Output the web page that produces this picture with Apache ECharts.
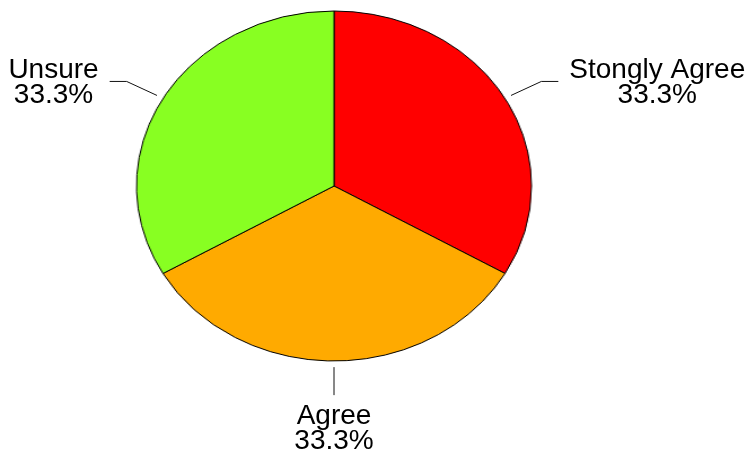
<!DOCTYPE html>
<html>
<head>
<meta charset="utf-8">
<script src="https://cdn.jsdelivr.net/npm/echarts@6/dist/echarts.min.js"></script>
<style>
  html, body { margin: 0; padding: 0; background: #ffffff; }
  #wrap { position: relative; width: 751px; height: 454px; overflow: hidden; }
  .layer { position: absolute; left: 0; top: 0; width: 751px; height: 454px; }
</style>
</head>
<body>
<div id="wrap">
  <div id="pie" class="layer"></div>
  <div id="labels" class="layer"></div>
</div>
<script>
// ---- data ----
const categories = ['Stongly Agree', 'Agree', 'Unsure'];
const values = [1, 1, 1];
const colors = ['#FF0000', '#FFAA00', '#88FF22'];

// ---- layout ----
const CX = 334, CY = 186;      // ellipse centre
const RX = 197.5, RY = 175;    // ellipse radii
const K = RX / RY;

const total = values.reduce((a, b) => a + b, 0);

const pieEl = document.getElementById('pie');
pieEl.style.transformOrigin = CX + 'px ' + CY + 'px';
pieEl.style.transform = 'scaleX(' + K + ')';

const data = categories.map((c, i) => ({ name: c, value: values[i] }));

const pieChart = echarts.init(pieEl, null, { renderer: 'canvas' });
pieChart.setOption({
  animation: false,
  color: colors,
  series: [{
    type: 'pie',
    silent: true,
    center: [CX, CY],
    radius: RY,
    startAngle: 90,
    clockwise: true,
    label: { show: false },
    labelLine: { show: false },
    itemStyle: { borderColor: '#000000', borderWidth: 1 },
    data: data
  }]
});

const labelChart = echarts.init(document.getElementById('labels'), null, { renderer: 'canvas' });
labelChart.setOption({
  animation: false,
  series: [{
    type: 'pie',
    silent: true,
    center: [CX, CY],
    radius: RY,
    startAngle: 90,
    clockwise: true,
    itemStyle: { color: 'transparent', borderWidth: 0 },
    label: {
      show: true,
      position: 'outside',
      formatter: function (p) {
        return p.name + '\n' + (p.value / total * 100).toFixed(1) + '%';
      },
      fontFamily: '"Liberation Sans", Arial, sans-serif',
      fontSize: 28,
      lineHeight: 25,
      color: '#000000'
    },
    labelLine: { show: true, length: 20, length2: 15, lineStyle: { color: '#111111', width: 1 } },
    labelLayout: function (params) {
      const pts = params.labelLinePoints;
      if (!pts) return {};
      let ux = pts[0][0] - CX, uy = pts[0][1] - CY;
      const n = Math.sqrt(ux * ux + uy * uy) || 1;
      ux /= n; uy /= n;
      const p0 = [CX + RX * ux * 1.035, CY + RY * uy * 1.035];
      const p1 = [p0[0] + ux * 35, p0[1] + uy * 28];
      const w = params.labelRect.width;
      if (Math.abs(ux) > 0.05) {
        const s = ux > 0 ? 1 : -1;
        const p2 = [p1[0] + s * 17, p1[1]];
        return {
          labelLinePoints: [p0, p1, p2],
          x: p2[0] + s * (11 + w / 2),
          y: p2[1] + 1,
          align: 'center',
          verticalAlign: 'middle'
        };
      }
      const s = uy > 0 ? 1 : -1;
      return {
        labelLinePoints: [p0, p1, p1],
        x: p1[0],
        y: s > 0 ? p1[1] + 9 : p1[1] - 9,
        align: 'center',
        verticalAlign: s > 0 ? 'top' : 'bottom'
      };
    },
    data: data
  }]
});
</script>
</body>
</html>
